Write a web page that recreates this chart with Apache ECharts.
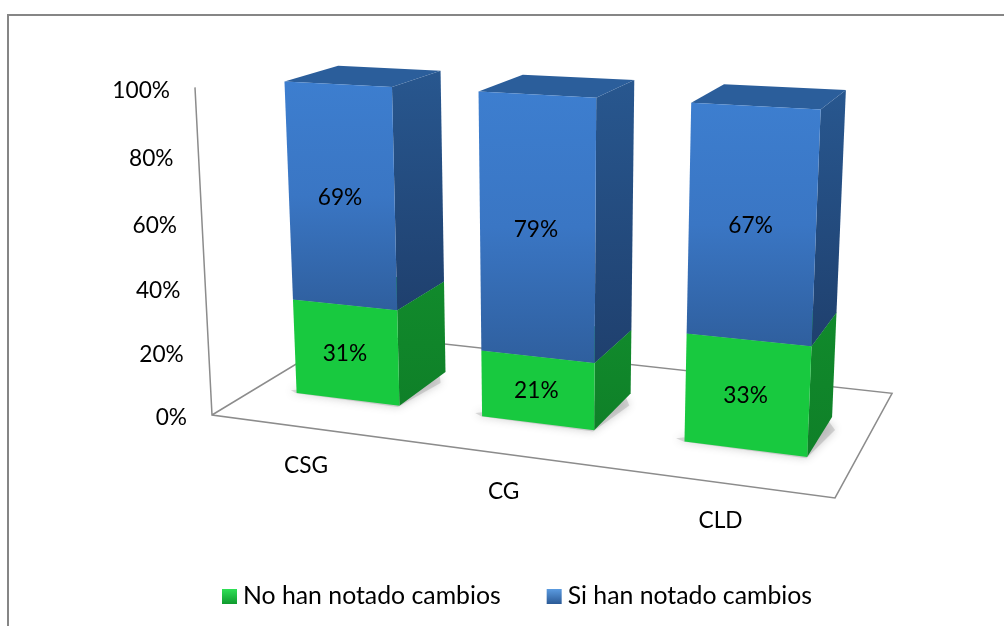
<!DOCTYPE html>
<html><head><meta charset="utf-8">
<style>html,body{margin:0;padding:0;background:#fff}#c{width:1004px;height:626px}</style>
<script src="https://cdn.jsdelivr.net/npm/echarts@6/dist/echarts.min.js"></script>
</head><body><div id="c"></div>
<script>
const categories = ['CSG', 'CG', 'CLD'];
const noCambios = [31, 21, 33];
const siCambios = [69, 79, 67];
const tickValues = [0, 20, 40, 60, 80, 100];
const tickLabels = ['0%', '20%', '40%', '60%', '80%', '100%'];
const nameNo = 'No han notado cambios';
const nameSi = 'Si han notado cambios';

// perspective camera: origin + three vanishing points with weights
const cam = {ox:212, oy:415,
  a:-0.1302, ax:-3950, ay:-139,
  b:-0.0474, bx:554, by:7000,
  c:0.1566, cx:1209, cy:-188};
function project(X, Y, Z){
  const w = 1 + cam.a*X + cam.b*Y + cam.c*Z;
  return [(cam.ox + cam.a*cam.ax*X + cam.b*cam.bx*Y + cam.c*cam.cx*Z)/w,
          (cam.oy + cam.a*cam.ay*X + cam.b*cam.by*Y + cam.c*cam.cy*Z)/w];
}
const barShare = 0.565, zFront = 0.30, zBack = 0.69, heightScale = 0.985, xShift = 0.003;
const FONT = 'Lato';
const lg = (c0,c1)=>({type:'linear',x:0,y:0,x2:0,y2:1,colorStops:[{offset:0,color:c0},{offset:1,color:c1}]});
const lgm = (c0,c1,c2)=>({type:'linear',x:0,y:0,x2:0,y2:1,colorStops:[{offset:0,color:c0},{offset:.5,color:c1},{offset:1,color:c2}]});

const palette = {
  no:{front:'#18c93f', side:lg('#118a2c','#0f8028'), top:'#15a534'},
  si:{front:lgm('#3d7ecf','#3a76c4','#2f5f9e'), side:lg('#28578f','#1f406e'), top:'#2b5e9b'}
};
function worldX(params, api, cat){
  const cs = params.coordSys;
  const c = api.coord([cat, 0]);
  const band = api.size([1,0])[0];
  return {cx:(c[0]-cs.x)/cs.width + xShift, half:band*barShare/2/cs.width};
}
function worldY(params, api, v){
  const cs = params.coordSys;
  return (cs.y + cs.height - api.coord([0, v])[1])/cs.height;
}
function poly(points, fill){
  return {type:'polygon', shape:{points}, style:{fill, stroke:null}};
}
function barRender(pal, baseArr, valArr){
  return function(params, api){
    const i = params.dataIndex;
    const wx = worldX(params, api, i);
    const x0 = wx.cx - wx.half, x1 = wx.cx + wx.half;
    const y0 = worldY(params, api, baseArr[i])*heightScale;
    const y1 = worldY(params, api, baseArr[i]+valArr[i])*heightScale;
    const P = project;
    const children = [];
    if (baseArr[i] === 0) {
      const pts = [P(x0-0.016,0,zFront+0.02),P(x0,0,zFront-0.003),P(x1,0,zFront-0.012),P(x1+0.016,0,zBack-0.12),P(x1,0,zBack-0.05)];
      children.push({type:'polygon',shape:{points:pts},style:{fill:'rgba(130,130,130,0.28)',shadowBlur:9,shadowColor:'#555'}});
    }
    children.push(poly([P(x1,y0,zFront),P(x1,y0,zBack),P(x1,y1,zBack),P(x1,y1,zFront)], pal.side));
    children.push(poly([P(x0,y1,zFront),P(x1,y1,zFront),P(x1,y1,zBack),P(x0,y1,zBack)], pal.top));
    children.push(poly([P(x0,y0,zFront),P(x1,y0,zFront),P(x1,y1,zFront),P(x0,y1,zFront)], pal.front));
    const lp = P(wx.cx,(y0+y1)/2,zFront);
    children.push({type:'text',z2:5,style:{x:lp[0]-1,y:lp[1]+1,text:valArr[i]+'%',fill:'#000',font:'22.7px '+FONT,align:'center',verticalAlign:'middle'}});
    return {type:'group',children};
  };
}
function frameRender(params, api){
  const children = [];
  const line = (pts)=>({type:'polyline',shape:{points:pts},style:{stroke:'#8c8c8c',lineWidth:1.5,fill:null}});
  const top = worldY(params, api, 100);
  children.push(line([project(0,top,0),project(0,0,0),project(1,0,0),project(1,0,1),project(0,0,1),project(0,0,0)]));
  tickValues.forEach((v,k)=>{
    const p = project(0, worldY(params,api,v), 0);
    children.push({type:'text',style:{x:p[0]-25,y:p[1]+3,text:tickLabels[k],fill:'#000',font:'22.7px '+FONT,align:'right',verticalAlign:'middle'}});
  });
  categories.forEach((c,i)=>{
    const wx = worldX(params, api, i);
    const p = project(wx.cx,0,0);
    children.push({type:'text',style:{x:p[0],y:p[1]+38,text:c,fill:'#000',font:'22.7px '+FONT,align:'center',verticalAlign:'middle'}});
  });
  return {type:'group',children};
}
const chart = echarts.init(document.getElementById('c'), null, {renderer:'canvas'});
const zeros = categories.map(()=>0);
chart.setOption({
  animation:false,
  backgroundColor:'#fff',
  grid:{left:100,top:100,width:600,height:300,show:false},
  xAxis:{type:'category',data:categories,show:false},
  yAxis:{type:'value',min:0,max:100,interval:20,show:false},
  legend:{
    data:[nameNo,nameSi], left:222, top:584, padding:0, itemWidth:15, itemHeight:15, itemGap:46,
    icon:'rect', textStyle:{fontFamily:FONT,fontSize:24.8,color:'#000',padding:[0,0,0,1]}
  },
  graphic:[{type:'rect',silent:true,z:-1,shape:{x:8,y:15,width:2000,height:2000},style:{fill:null,stroke:'#868686',lineWidth:2}}],
  series:[
    {type:'custom',name:'frame',data:[0],renderItem:frameRender,silent:true,z:1},
    {type:'custom',name:nameNo,data:noCambios,z:2,renderItem:barRender(palette.no,zeros,noCambios),itemStyle:{color:lg('#2fe056','#0f9a2e')}},
    {type:'custom',name:nameSi,data:siCambios,z:2,renderItem:barRender(palette.si,noCambios,siCambios),itemStyle:{color:lg('#5b9be0','#2b5a96')}}
  ]
});
</script></body></html>
